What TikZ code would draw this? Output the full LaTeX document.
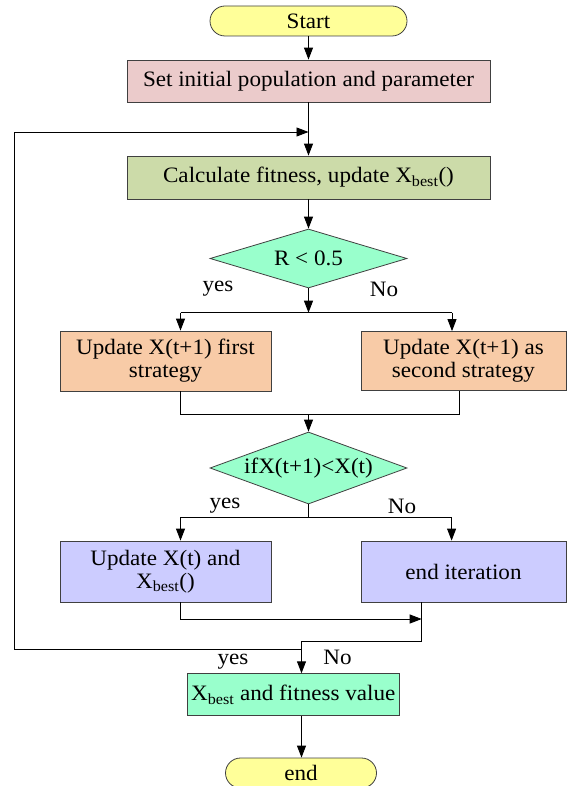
\documentclass[tikz,border=0pt]{standalone}
\usepackage{fontspec}
\setmainfont{Liberation Serif}[FakeStretch=1.05]
\usetikzlibrary{shapes.geometric}
\usetikzlibrary{arrows.meta}

\definecolor{termyellow}{HTML}{FFFF99}
\definecolor{initpink}{HTML}{EBCBCB}
\definecolor{calcgreen}{HTML}{CCDBA9}
\definecolor{condgreen}{HTML}{99FFCC}
\definecolor{updpeach}{HTML}{F8CBA7}
\definecolor{updblue}{HTML}{CCCCFF}

\tikzset{
  box/.style={draw=black!75, line width=0.8pt, rectangle, inner sep=0pt,
    align=center, font=\fontsize{22}{23}\selectfont},
  term/.style={box, rounded corners=15pt, fill=termyellow},
  decision/.style={box, diamond, fill=condgreen},
  arr/.style={-{Triangle[length=12pt,width=9pt]}, line width=0.9pt},
  lbl/.style={inner sep=0pt, font=\fontsize{22}{23}\selectfont}
}

\begin{document}
\begin{tikzpicture}[x=1pt,y=-1pt]
        \useasboundingbox (0,0) rectangle (566,786);

        % top part
        \node[term, minimum width=197pt, minimum height=30pt] (start) at (308.5,21) {Start};
        \node[box, fill=initpink, minimum width=363pt, minimum height=42pt] (init) at (308.5,81) {Set initial population and parameter};
        \node[box, fill=calcgreen, minimum width=363pt, minimum height=43pt] (calc) at (308.5,177.5) {Calculate fitness, update X\textsubscript{best}()};
        \node[decision, aspect=3.34, minimum width=197pt, minimum height=59pt] (cond1) at (308.5,258.5) {R < 0.5};

        % first branch
        \node[box, fill=updpeach, minimum width=211pt, minimum height=60pt] (upd1) at (165.5,361) {Update X(t+1) first\\strategy};
        \node[box, fill=updpeach, minimum width=205pt, minimum height=59pt] (upd2) at (463.5,361) {Update X(t+1) as\\second strategy};
        \node[decision, aspect=2.74, minimum width=197pt, minimum height=72pt] (cond2) at (308.5,468) {ifX(t+1)<X(t)};

        % second branch
        \node[box, fill=updblue, minimum width=211pt, minimum height=61pt] (upd3) at (165.5,571.5) {Update X(t) and\\X\textsubscript{best}()};
        \node[box, fill=updblue, minimum width=205pt, minimum height=61pt] (stopit) at (463.5,571.5) {end iteration};

        % bottom part
        \node[box, fill=condgreen, minimum width=212pt, minimum height=42pt] (result) at (293.2,694.7) {X\textsubscript{best} and fitness value};
        \node[term, minimum width=151pt, minimum height=30pt] (stop) at (301,773) {end};

        % labels
        \node[lbl] (yes1) at (218,289) {yes};
        \node[lbl] (no1) at (384,289) {No};
        \node[lbl] (yes2) at (225,506) {yes};
        \node[lbl] (no2) at (402,506) {No};
        \node[lbl] (yes3) at (233,662) {yes};
        \node[lbl] (no3) at (337.5,657) {No};

        % joints
        \coordinate (back) at (308.5,132);
        \coordinate (split1) at (308.5,312.7);
        \coordinate (bl1) at (180.5,312.7);
        \coordinate (br1) at (452,312.7);
        \coordinate (mr) at (459.7,414.7);
        \coordinate (merge) at (308.5,414.7);
        \coordinate (split2) at (308.5,517);
        \coordinate (bl2) at (180.5,517);
        \coordinate (br2) at (451.6,517);
        \coordinate (join) at (421.7,619);
        \coordinate (turn) at (421.7,641);
        \coordinate (fin) at (301.5,641);
        \coordinate (loop) at (301.5,649);
        \coordinate (lc) at (14.5,132);

        % connectors
        \draw[arr] (start) -- (init);
        \draw[arr] (init) -- (calc);
        \draw[arr] (calc) -- (cond1);
        \draw[arr] (cond1) -- (split1);
        \draw[line width=0.9pt] (bl1) -- (br1);
        \draw[arr] (bl1) -- (bl1 |- upd1.north);
        \draw[arr] (br1) -- (br1 |- upd2.north);
        \draw[line width=0.9pt] (bl1 |- upd1.south) |- (mr) -- (mr |- upd2.south);
        \draw[arr] (merge) -- (cond2);
        \draw[line width=0.9pt] (cond2) -- (split2);
        \draw[line width=0.9pt] (bl2) -- (br2);
        \draw[arr] (bl2) -- (bl2 |- upd3.north);
        \draw[arr] (br2) -- (br2 |- stopit.north);
        \draw[arr] (bl2 |- upd3.south) |- (join);
        \draw[line width=0.9pt] (join |- stopit.south) -- (turn) -- (fin);
        \draw[arr] (fin) -- (fin |- result.north);
        \draw[arr] (loop) -| (lc) -- (back);
        \draw[arr] (fin |- result.south) -- (fin |- stop.north);
    \end{tikzpicture}
\end{document}
